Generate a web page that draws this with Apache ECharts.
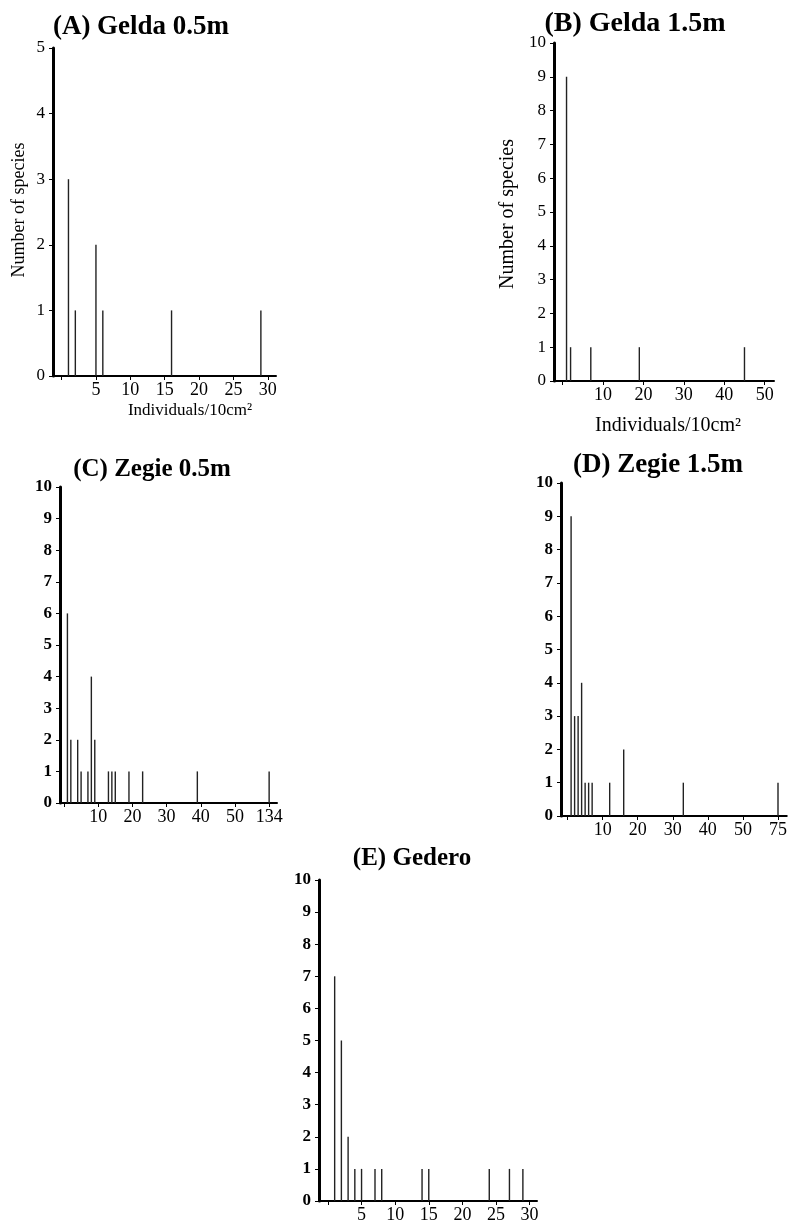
<!DOCTYPE html>
<html>
<head>
<meta charset="utf-8">
<script src="https://cdn.jsdelivr.net/npm/echarts@6/dist/echarts.min.js"></script>
<style>
  html, body { margin: 0; padding: 0; background: #fff; }
  #chart { width: 790px; height: 1224px; }
</style>
</head>
<body>
<div id="chart"></div>
<script>
// ---------------- DATA ----------------
const titles = ['(A) Gelda 0.5m', '(B) Gelda 1.5m', '(C) Zegie 0.5m', '(D) Zegie 1.5m', '(E) Gedero'];
const xTitle = 'Individuals/10cm²';
const yTitle = 'Number of species';

// Individuals/10cm² (x) and number of species (y) per panel
const aX = [1, 2, 5, 6, 16, 29];
const aY = [3, 1, 2, 1, 1, 1];
const bX = [1, 2, 7, 19, 45];
const bY = [9, 1, 1, 1, 1];
const cX = [1, 2, 4, 5, 7, 8, 9, 13, 14, 15, 19, 23, 39, 134];
const cY = [6, 2, 2, 1, 1, 4, 2, 1, 1, 1, 1, 1, 1, 1];
const dX = [1, 2, 3, 4, 5, 6, 7, 12, 16, 33, 75];
const dY = [9, 3, 3, 4, 1, 1, 1, 1, 2, 1, 1];
const eX = [1, 2, 3, 4, 5, 7, 8, 14, 15, 24, 27, 29];
const eY = [7, 5, 2, 1, 1, 1, 1, 1, 1, 1, 1, 1];

// tick values / labels
const aTicks = [0, 5, 10, 15, 20, 25, 30];
const aLabels = [5, 10, 15, 20, 25, 30];
const bTicks = [0, 10, 20, 30, 40, 50];
const bLabels = [10, 20, 30, 40, 50];
const cdTicks = [0, 10, 20, 30, 40, 50, 60];
const cdLabels = [10, 20, 30, 40, 50, 60];
const eTicks = [0, 5, 10, 15, 20, 25, 30];
const eLabels = [5, 10, 15, 20, 25, 30];
// broken x axis: the last category is drawn at the 60 tick and labelled with its real value
const cBreak = { real: 134, shownAt: 60 };
const dBreak = { real: 75, shownAt: 60 };

// ---------------- LAYOUT ----------------
const FONT = '"Liberation Serif", "Times New Roman", serif';
const panels = [
  { x: aX, y: aY, ticks: aTicks, labels: aLabels, brk: null,  L: 53,  R: 276, T: 48,  B: 376,  xMin: -1.25, xMax: 31.2, yMax: 5,
    title: [141, 27], tSize: 27, yBold: false, xt: [190, 411], xtSize: 17, yt: [19, 210], ytSize: 18 },
  { x: bX, y: bY, ticks: bTicks, labels: bLabels, brk: null,  L: 554, R: 774, T: 43,  B: 381,  xMin: -2.1,  xMax: 52.3, yMax: 10,
    title: [635, 24], tSize: 28, yBold: false, xt: [668, 426], xtSize: 20, yt: [508, 214], ytSize: 20 },
  { x: cX, y: cY, ticks: cdTicks, labels: cdLabels, brk: cBreak, L: 60,  R: 277, T: 487, B: 803,  xMin: -1.17, xMax: 62.3, yMax: 10,
    title: [152, 470], tSize: 25, yBold: true, xt: null, yt: null },
  { x: dX, y: dY, ticks: cdTicks, labels: cdLabels, brk: dBreak, L: 561, R: 787, T: 483, B: 816,  xMin: -1.88, xMax: 62.5, yMax: 10,
    title: [658, 465], tSize: 27, yBold: true, xt: null, yt: null },
  { x: eX, y: eY, ticks: eTicks, labels: eLabels, brk: null,  L: 319, R: 537, T: 880, B: 1202, xMin: -1.33, xMax: 31.1, yMax: 10,
    title: [412, 859], tSize: 25, yBold: true, xt: null, yt: null }
];

const grid = [], xAxis = [], yAxis = [], series = [], graphic = [];
panels.forEach((p, i) => {
  grid.push({ left: p.L, top: p.T, width: p.R - p.L, height: p.B - p.T, containLabel: false });
  const brk = p.brk;
  xAxis.push({
    type: 'value', gridIndex: i, min: p.xMin, max: p.xMax,
    splitLine: { show: false },
    axisLine: { show: true, onZero: false, lineStyle: { color: '#000', width: 2 } },
    axisTick: { show: true, customValues: p.ticks, length: 4, lineStyle: { color: '#000', width: 1 } },
    axisLabel: {
      customValues: p.labels, margin: 5, color: '#000', fontFamily: FONT, fontSize: 18,
      formatter: v => (brk && v === brk.shownAt) ? String(brk.real) : String(v)
    }
  });
  yAxis.push({
    type: 'value', gridIndex: i, min: 0, max: p.yMax, interval: 1,
    splitLine: { show: false },
    axisLine: { show: true, onZero: false, lineStyle: { color: '#000', width: 3 } },
    axisTick: { show: true, length: 4, lineStyle: { color: '#000', width: 1 } },
    axisLabel: { margin: 8, color: '#000', fontFamily: FONT, fontSize: 17, fontWeight: p.yBold ? 'bold' : 'normal' }
  });
  series.push({
    type: 'bar', xAxisIndex: i, yAxisIndex: i, barWidth: 1.4,
    itemStyle: { color: '#222' }, silent: true, animation: false,
    data: p.x.map((v, k) => [(brk && v === brk.real) ? brk.shownAt : v, p.y[k]])
  });
  graphic.push({
    type: 'text', x: p.title[0], y: p.title[1],
    style: { text: titles[i], font: 'bold ' + p.tSize + 'px ' + FONT, fill: '#000', textAlign: 'center', textVerticalAlign: 'middle' }
  });
  if (p.xt) graphic.push({
    type: 'text', x: p.xt[0], y: p.xt[1],
    style: { text: xTitle, font: p.xtSize + 'px ' + FONT, fill: '#000', textAlign: 'center', textVerticalAlign: 'middle' }
  });
  if (p.yt) graphic.push({
    type: 'text', x: p.yt[0], y: p.yt[1], rotation: Math.PI / 2,
    style: { text: yTitle, font: p.ytSize + 'px ' + FONT, fill: '#000', textAlign: 'center', textVerticalAlign: 'middle' }
  });
});

const chart = echarts.init(document.getElementById('chart'), null, { renderer: 'canvas' });
chart.setOption({ animation: false, backgroundColor: '#fff', grid, xAxis, yAxis, series, graphic });
</script>
</body>
</html>
